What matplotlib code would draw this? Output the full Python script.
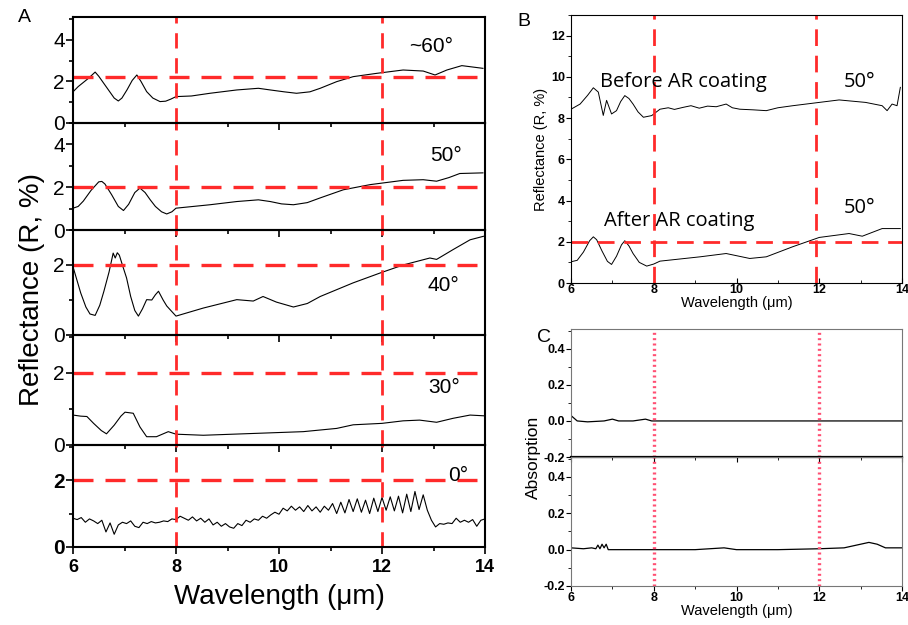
import numpy as np
import matplotlib
matplotlib.use("Agg")
import matplotlib.pyplot as plt
from matplotlib.ticker import MultipleLocator

plt.rcParams['font.family'] = ['Liberation Sans', 'DejaVu Sans']

# ---- reflectance spectra, panel A (wavelength in um, R in %) ----
wl_60 = [6.0, 6.1, 6.2, 6.3, 6.43, 6.5, 6.6, 6.7, 6.8, 6.88, 6.95, 7.05, 7.15, 7.24,
         7.32, 7.43, 7.55, 7.69, 7.8, 7.9, 8.0, 8.3, 8.66, 9.18, 9.6, 9.83, 10.1,
         10.34, 10.6, 10.8, 11.12, 11.44, 11.9, 12.41, 12.8, 13.03, 13.26, 13.55, 13.96]
r_60 = [1.5, 1.75, 1.95, 2.15, 2.45, 2.25, 1.9, 1.55, 1.2, 1.06, 1.2, 1.6, 2.05, 2.31,
        2.0, 1.51, 1.2, 1.03, 1.05, 1.15, 1.27, 1.3, 1.43, 1.59, 1.67, 1.59, 1.5,
        1.43, 1.5, 1.67, 1.99, 2.23, 2.39, 2.55, 2.5, 2.31, 2.55, 2.76, 2.63]

wl_50 = [6.0, 6.1, 6.2, 6.35, 6.5, 6.56, 6.62, 6.75, 6.88, 6.98, 7.08, 7.2, 7.3, 7.4,
         7.5, 7.6, 7.72, 7.82, 7.92, 8.0, 8.66, 9.18, 9.6, 9.83, 10.05, 10.28, 10.55,
         10.8, 11.25, 11.77, 12.41, 12.8, 13.06, 13.3, 13.51, 13.96]
r_50 = [1.02, 1.1, 1.35, 1.85, 2.25, 2.27, 2.15, 1.65, 1.1, 0.91, 1.2, 1.75, 1.96, 1.75,
        1.41, 1.1, 0.85, 0.75, 0.85, 1.02, 1.18, 1.33, 1.41, 1.33, 1.22, 1.18, 1.28,
        1.5, 1.88, 2.12, 2.32, 2.35, 2.28, 2.45, 2.64, 2.67]

wl_40 = [6.0, 6.08, 6.15, 6.25, 6.33, 6.43, 6.52, 6.6, 6.7, 6.78, 6.82, 6.86, 6.9, 6.97,
         7.04, 7.12, 7.2, 7.27, 7.35, 7.43, 7.53, 7.6, 7.66, 7.75, 7.82, 7.9, 8.0,
         8.53, 9.18, 9.5, 9.69, 9.95, 10.28, 10.55, 10.8, 11.44, 11.96, 12.41, 12.93,
         13.06, 13.38, 13.71, 13.97]
r_40 = [1.95, 1.55, 1.2, 0.8, 0.6, 0.56, 0.85, 1.25, 1.8, 2.34, 2.2, 2.35, 2.28, 1.95,
        1.63, 1.1, 0.7, 0.54, 0.75, 1.01, 1.0, 1.15, 1.25, 1.0, 0.83, 0.7, 0.54,
        0.77, 1.01, 0.97, 1.1, 0.94, 0.8, 0.9, 1.1, 1.49, 1.77, 2.0, 2.2, 2.16, 2.44,
        2.72, 2.82]

wl_30 = [6.0, 6.15, 6.27, 6.4, 6.55, 6.65, 6.8, 6.93, 7.01, 7.17, 7.3, 7.43, 7.62, 7.85,
         8.0, 8.53, 9.5, 10.47, 11.12, 11.44, 12.0, 12.41, 12.73, 13.06, 13.38, 13.71,
         13.97]
r_30 = [0.83, 0.8, 0.79, 0.6, 0.4, 0.31, 0.55, 0.8, 0.91, 0.88, 0.5, 0.23, 0.23, 0.37,
        0.3, 0.27, 0.32, 0.37, 0.46, 0.56, 0.6, 0.67, 0.69, 0.63, 0.74, 0.83, 0.81]

# 0 deg spectrum, sampled every 0.08 um from 6 to 14
r_0 = [0.86, 0.82, 0.88, 0.74, 0.84, 0.78, 0.70, 0.80, 0.45, 0.72, 0.38, 0.66, 0.74,
       0.70, 0.78, 0.62, 0.58, 0.74, 0.70, 0.76, 0.72, 0.74, 0.78, 0.76, 0.84,
       0.82, 0.92, 0.86, 0.80, 0.90, 0.78, 0.86, 0.74, 0.84, 0.66, 0.74, 0.62, 0.70,
       0.60, 0.56, 0.70, 0.64, 0.80, 0.74, 0.84, 0.80, 0.92, 0.86, 0.96, 1.04,
       0.98, 1.16, 1.08, 1.22, 1.10, 1.20, 1.06, 1.24, 1.08, 1.20, 1.04, 1.22, 1.10,
       1.30, 1.00, 1.34, 1.02, 1.42, 1.06, 1.44, 1.04, 1.40, 1.00, 1.46, 1.06,
       1.48, 1.10, 1.50, 1.08, 1.52, 1.02, 1.58, 1.06, 1.66, 1.12, 1.56, 1.10, 0.80,
       0.60, 0.70, 0.68, 0.72, 0.70, 0.86, 0.74, 0.80, 0.74, 0.82, 0.62, 0.80,
       0.84]
wl_0 = np.linspace(6, 14, len(r_0))

angles = ["~60°", "50°", "40°", "30°", "0°"]
ref_levels = [2.2, 2.0, 2.0, 2.0, 2.0]

# ---- panel B: 50 deg before / after AR coating ----
wl_before = [6.0, 6.22, 6.4, 6.54, 6.66, 6.78, 6.86, 6.98, 7.1, 7.2, 7.3, 7.4, 7.5,
             7.62, 7.75, 7.95, 8.15, 8.35, 8.5, 8.71, 8.9, 9.1, 9.3, 9.51, 9.75, 9.9,
             10.08, 10.4, 10.72, 11.0, 11.36, 12.0, 12.48, 13.12, 13.52, 13.64, 13.76,
             13.88, 13.96]
r_before = [8.43, 8.68, 9.1, 9.47, 9.26, 8.13, 8.86, 8.2, 8.36, 8.8, 9.09, 8.95, 8.68,
            8.3, 8.04, 8.12, 8.43, 8.5, 8.42, 8.52, 8.6, 8.48, 8.58, 8.55, 8.68, 8.5,
            8.43, 8.4, 8.36, 8.5, 8.6, 8.76, 8.88, 8.76, 8.6, 8.36, 8.68, 8.6, 9.49]

wl_after = [6.0, 6.15, 6.3, 6.45, 6.54, 6.62, 6.75, 6.88, 6.98, 7.1, 7.22, 7.3, 7.4,
            7.5, 7.65, 7.83, 8.0, 8.15, 9.12, 9.75, 10.32, 10.72, 11.36, 12.0, 12.72,
            13.04, 13.52, 13.96]
r_after = [1.03, 1.1, 1.5, 2.05, 2.24, 2.1, 1.55, 1.05, 0.9, 1.3, 1.85, 2.05, 1.8,
           1.43, 1.0, 0.82, 0.92, 1.06, 1.27, 1.43, 1.19, 1.27, 1.76, 2.21, 2.4,
           2.27, 2.64, 2.64]

# ---- panel C: absorption ----
wl_abs_top = [6.0, 6.05, 6.15, 6.4, 6.8, 7.0, 7.15, 7.5, 7.8, 7.95, 8.2, 14.0]
abs_top = [0.03, 0.02, 0.0, -0.005, 0.0, 0.01, 0.0, 0.0, 0.01, 0.0, 0.0, 0.0]
wl_abs_bot = [6.0, 6.3, 6.5, 6.6, 6.65, 6.7, 6.75, 6.8, 6.85, 6.9, 7.0, 8.0, 9.0, 9.7,
              10.0, 11.0, 12.0, 12.6, 13.0, 13.2, 13.4, 13.6, 14.0]
abs_bot = [0.01, 0.005, 0.01, 0.005, 0.025, 0.005, 0.03, 0.01, 0.03, 0.0, 0.0, 0.0, 0.0,
           0.01, 0.0, 0.0, 0.005, 0.01, 0.03, 0.04, 0.03, 0.01, 0.01]

W, H = 908, 625
RED = '#ff2a2a'


def box(x0, y0, x1, y1):
    return [x0 / W, 1 - y1 / H, (x1 - x0) / W, (y1 - y0) / H]


fig = plt.figure(figsize=(W / 100, H / 100), dpi=100)

# ---------------- panel A ----------------
rows = [(17, 123), (123, 230), (230, 335), (335, 445), (445, 547)]
ylims = [(0, 5.1), (0, 5.0), (0, 3.0), (0, 3.05), (0, 3.05)]
series = [(wl_60, r_60), (wl_50, r_50), (wl_40, r_40), (wl_30, r_30), (wl_0, r_0)]
label_pos = [(0.87, 0.72), (0.905, 0.7), (0.9, 0.47), (0.9, 0.52), (0.935, 0.7)]

for i, ((t, b), lim, (x, y)) in enumerate(zip(rows, ylims, series)):
    ax = fig.add_axes(box(73, t, 485, b))
    ax.set_facecolor('none')
    ax.plot(x, y, color='black', lw=0.8)
    ax.axhline(ref_levels[i], color=RED, lw=2.4, ls=(0, (6, 3.6)))
    for xv in (8, 12):
        ax.axvline(xv, color=RED, lw=2.0, ls=(0, (5.5, 3.5)))
    ax.set_xlim(6, 14)
    ax.set_ylim(*lim)
    ax.xaxis.set_major_locator(MultipleLocator(2))
    ax.xaxis.set_minor_locator(MultipleLocator(1))
    ax.yaxis.set_major_locator(MultipleLocator(2))
    ax.yaxis.set_minor_locator(MultipleLocator(1))
    ax.tick_params(which='both', direction='out', width=1.2)
    ax.tick_params(which='major', length=5)
    ax.tick_params(which='minor', length=3)
    ax.tick_params(axis='y', labelsize=15, pad=1)
    for s in ax.spines.values():
        s.set_linewidth(1.5)
    ax.text(label_pos[i][0], label_pos[i][1], angles[i], transform=ax.transAxes,
            fontsize=15, ha='center', va='center')
    if i < 4:
        ax.tick_params(axis='x', labelbottom=False)
    else:
        ax.tick_params(axis='x', labelsize=13)
        for lab in ax.get_xticklabels() + ax.get_yticklabels():
            lab.set_fontweight('bold')
        ax.set_xlabel('Wavelength (\u03bcm)', fontsize=20, labelpad=6)

fig.text(32 / W, 1 - 290 / H, 'Reflectance (R, %)', rotation=90, fontsize=20,
         ha='center', va='center')
fig.text(18 / W, 1 - 18 / H, 'A', fontsize=14, ha='left', va='center')

# ---------------- panel B ----------------
axb = fig.add_axes(box(571, 15, 902, 283))
axb.plot(wl_before, r_before, color='black', lw=0.7)
axb.plot(wl_after, r_after, color='black', lw=0.7)
axb.axhline(2.0, color=RED, lw=2.0, ls=(0, (6, 3.5)))
for xv in (8, 11.93):
    axb.axvline(xv, color=RED, lw=2.0, ls=(0, (6, 3.5)))
axb.set_xlim(6, 14)
axb.set_ylim(0, 13)
axb.xaxis.set_major_locator(MultipleLocator(2))
axb.xaxis.set_minor_locator(MultipleLocator(1))
axb.yaxis.set_major_locator(MultipleLocator(2))
axb.yaxis.set_minor_locator(MultipleLocator(1))
axb.tick_params(axis='x', which='both', direction='in', labelsize=9, pad=1)
axb.tick_params(axis='y', which='both', direction='out', labelsize=9, pad=1)
axb.tick_params(which='major', length=3.5)
axb.tick_params(which='minor', length=2)
for lab in axb.get_xticklabels() + axb.get_yticklabels():
    lab.set_fontweight('bold')
axb.set_ylabel('Reflectance (R, %)', fontsize=10.5, labelpad=2)
axb.set_xlabel('Wavelength (\u03bcm)', fontsize=10.5, labelpad=0)
axb.text(6.7, 9.75, 'Before AR coating', fontsize=14.5, family='Open Sans', va='center')
axb.text(12.6, 9.75, '50°', fontsize=14.5, family='Open Sans', va='center')
axb.text(6.8, 3.0, 'After AR coating', fontsize=14.5, family='Open Sans', va='center')
axb.text(12.6, 3.65, '50°', fontsize=14.5, family='Open Sans', va='center')
fig.text(517 / W, 1 - 22 / H, 'B', fontsize=14, ha='left', va='center')

# ---------------- panel C ----------------
for j, (t, b, x, y) in enumerate([(329, 457, wl_abs_top, abs_top),
                                   (457, 586, wl_abs_bot, abs_bot)]):
    axc = fig.add_axes(box(571, t, 902, b))
    axc.set_facecolor('none')
    axc.plot(x, y, color='black', lw=0.9)
    for xv in (8, 12):
        axc.axvline(xv, color='#ff4f73', lw=2.4, ls=(0, (0.6, 1.0)))
    axc.set_xlim(6, 14)
    axc.set_ylim(-0.2, 0.51)
    axc.xaxis.set_major_locator(MultipleLocator(2))
    axc.xaxis.set_minor_locator(MultipleLocator(1))
    axc.yaxis.set_major_locator(MultipleLocator(0.2))
    axc.yaxis.set_minor_locator(MultipleLocator(0.1))
    axc.tick_params(which='both', direction='out', labelsize=9, pad=1)
    axc.tick_params(which='major', length=3.5)
    axc.tick_params(which='minor', length=2)
    for s in axc.spines.values():
        s.set_color('#777777')
    axc.yaxis.set_major_formatter(plt.FuncFormatter(lambda v, p: '%.1f' % v))
    if j == 0:
        axc.spines['bottom'].set_color('black')
        axc.spines['bottom'].set_linewidth(1.6)
        axc.tick_params(axis='x', labelbottom=False)
        axc.set_ylabel('Absorption', fontsize=12.5)
        axc.yaxis.set_label_coords(-0.09, 0.0)
    else:
        axc.set_xlabel('Wavelength (\u03bcm)', fontsize=10.5, labelpad=0)
    for lab in axc.get_xticklabels() + axc.get_yticklabels():
        lab.set_fontweight('bold')
fig.text(537 / W, 1 - 337 / H, 'C', fontsize=14, ha='left', va='center')

fig.savefig('out.png', dpi=100)
